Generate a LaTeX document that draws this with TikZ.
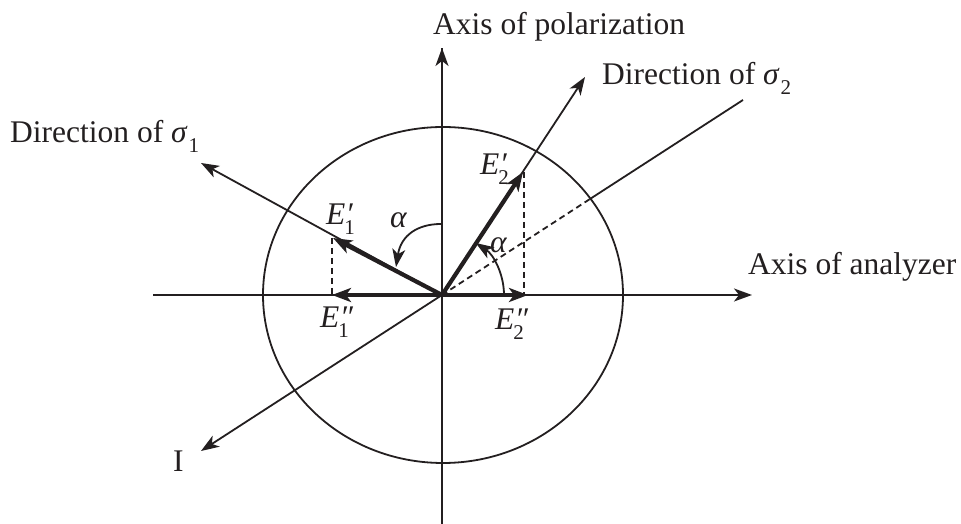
\documentclass[tikz,border=0pt]{standalone}
\usepackage{fontspec}
\setmainfont{Liberation Serif}
\usetikzlibrary{arrows.meta,calc}
\definecolor{ink}{RGB}{35,31,32}
\newcommand\Evec[2]{\textit{E}\rlap{\kern0.5pt\textit{#2}}\kern-1pt\raisebox{-0.30em}{\fontsize{21}{21}\selectfont #1}}
\newcommand\Sig[2]{\textit{#1}\raisebox{-0.30em}{\fontsize{21}{21}\selectfont\kern1pt #2}}
\begin{document}
\begin{tikzpicture}[x=1pt,y=1pt,
  thin line/.style={draw=ink,line width=1.8pt},
  tip/.style={-{Stealth[length=18pt,width=13pt,inset=5pt]}},
  vec/.style={draw=ink,line width=4.2pt,-{Stealth[length=19pt,width=14pt,inset=5pt]}},
  dash line/.style={draw=ink,line width=1.8pt,dash pattern=on 6pt off 4pt},
  lbl/.style={inner sep=0pt,anchor=base west,text=ink,font=\fontsize{31.5}{36}\selectfont}]
\useasboundingbox (0,0) rectangle (961,524);
% coordinates
\coordinate (O) at (442,229);
\coordinate (vbot) at (442,0);
\coordinate (vtop) at (442,476);
\coordinate (hl) at (153,229);
\coordinate (hr) at (752,229);
\coordinate (s1) at (201,361);
\coordinate (s2) at (585,447);
\coordinate (cross) at (590,325);
\coordinate (ur) at (743,424);
\coordinate (Itip) at (201,73);
\coordinate (E1p) at (333,286);
\coordinate (E1pp) at (332,229);
\coordinate (E1foot) at (332,229);
\coordinate (E1top) at (332,286);
\coordinate (E2p) at (523,352);
\coordinate (E2pp) at (528,229);
\coordinate (E2foot) at (524,229);
\coordinate (E2top) at (524,352);
% ellipse
\draw[thin line] (443,229) ellipse [x radius=180, y radius=168];
% axes
\draw[thin line] (vbot) -- (vtop);
\draw[thin line,tip] (O) -- (vtop);
\draw[thin line,tip] (hl) -- (hr);
% direction lines
\draw[thin line,tip] (O) -- (s1);
\draw[thin line,tip] (O) -- (s2);
\draw[thin line,tip] (O) -- (Itip);
\draw[dash line] (O) -- (cross);
\draw[thin line] (cross) -- (ur);
% dashed projections
\draw[dash line] (E1top) -- (E1foot);
\draw[dash line] (E2top) -- (E2foot);
% vectors
\draw[vec] (O) -- (E1p);
\draw[vec] (O) -- (E1pp);
\draw[vec] (O) -- (E2p);
\draw[vec] (O) -- (E2pp);
% alpha arcs
\coordinate (a1s) at (441,300);
\coordinate (a1e) at (396,257);
\draw[thin line,tip] (a1s) .. controls (418,300) and (401,289) .. (a1e);
\coordinate (a2s) at (504,229);
\draw[thin line,tip] (a2s) arc[start angle=0,end angle=57,radius=62];
% labels
\node[lbl] (tpol) at (433,489) {Axis of polarization};
\node[lbl] (tsig2) at (602,439) {Direction of \Sig{σ}{2}};
\node[lbl] (tsig1) at (10,381) {Direction of \Sig{σ}{1}};
\node[lbl] (tana) at (748,249) {Axis of analyzer};
\node[lbl] (tI) at (173,52) {I};
\node[lbl] (lE1p) at (326,299) {\Evec{1}{′}};
\node[lbl] (lE1pp) at (320,196) {\Evec{1}{″}};
\node[lbl] (lE2p) at (480,349) {\Evec{2}{′}};
\node[lbl] (lE2pp) at (495,194) {\Evec{2}{″}};
\node[lbl] (la1) at (390,296) {\textit{α}};
\node[lbl] (la2) at (490,271) {\textit{α}};
\end{tikzpicture}
\end{document}
